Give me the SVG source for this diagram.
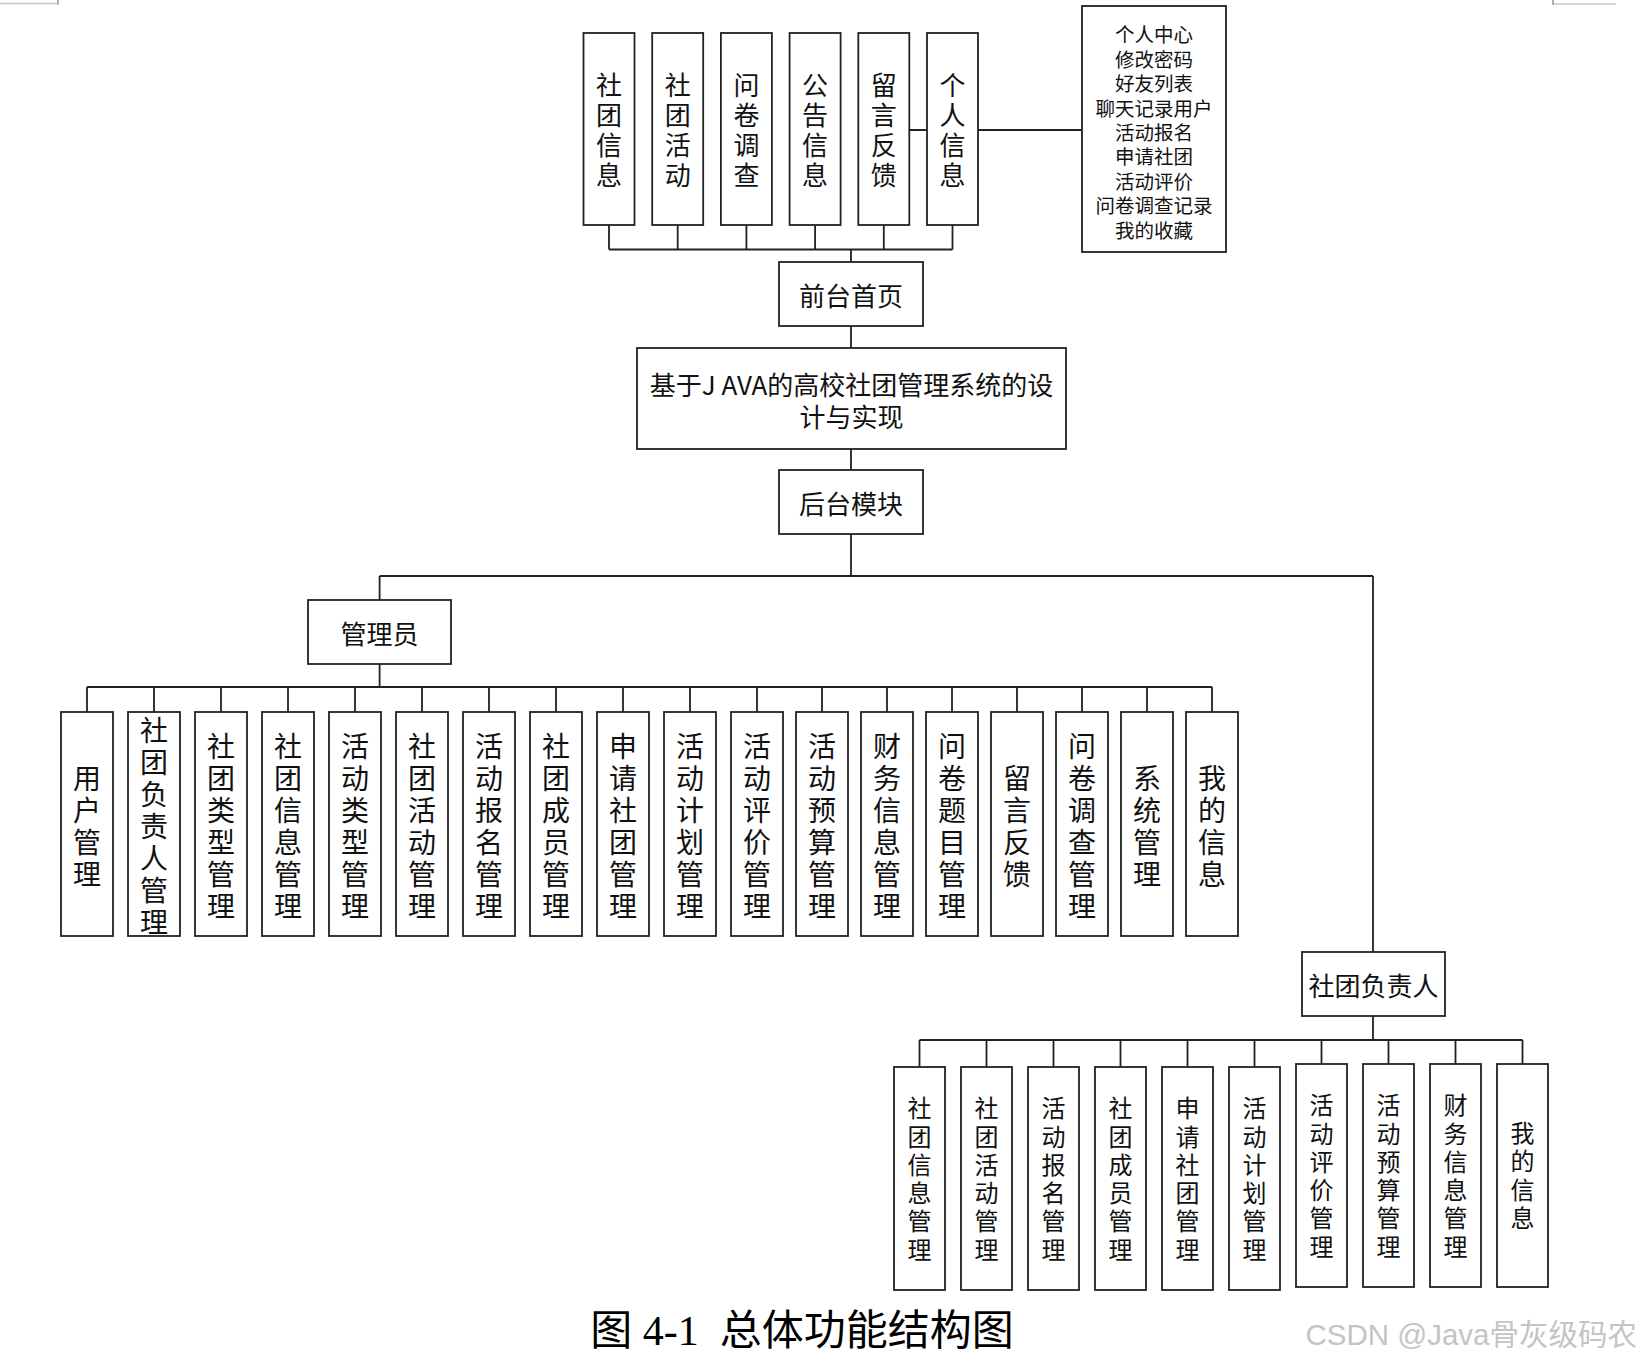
<svg xmlns="http://www.w3.org/2000/svg" width="1644" height="1362" viewBox="0 0 1644 1362">
<style>
.box{fill:#fff;stroke:#222;stroke-width:1.8}
.ln{fill:none;stroke:#222;stroke-width:1.8}
text{font-family:"Noto Sans CJK SC","Noto Sans",sans-serif;fill:#111;text-anchor:middle;dominant-baseline:central}
.v{writing-mode:vertical-rl;text-orientation:upright}
.t26{font-size:26px}
.v26{font-size:26px;letter-spacing:4px}
.v28{font-size:28px;letter-spacing:4px}
.v24{font-size:24px;letter-spacing:4.3px}
.t20{font-size:19.5px}
.cap{font-family:"Liberation Serif","Noto Sans CJK SC",serif;font-size:42px;fill:#000}
.wm{font-family:"Liberation Sans","Noto Sans CJK SC",sans-serif;font-size:29.5px;fill:#c4c4c4;text-anchor:end}
</style>
<rect width="1644" height="1362" fill="#fff"/>
<g id="corner-marks" fill="none" stroke-width="1.5">
<path d="M0 3.5H58" stroke="#c8c8c8"/><path d="M58 0V4.5" stroke="#999"/>
<path d="M1553 4H1616" stroke="#c8c8c8"/><path d="M1553 0V5" stroke="#999"/>
</g>
<g id="connectors" class="ln">
<path d="M609 225V249.5M677.7 225V249.5M746.4 225V249.5M815.1 225V249.5M883.8 225V249.5M952.5 225V249.5M609 249.5H952.5M851 249.5V262"/>
<path d="M909.3 130H927M978 130H1082"/>
<path d="M851 326V348M851 449V470M851 534V576M379.6 576H1373M379.6 576V600M1373 576V952"/>
<path d="M379.6 664V687M87 687H1212M87 687V712M154 687V712M221 687V712M288 687V712M355 687V712M422 687V712M489 687V712M556 687V712M623 687V712M690 687V712M757 687V712M822 687V712M887 687V712M952 687V712M1017 687V712M1082 687V712M1147 687V712M1212 687V712"/>
<path d="M1373 1016V1040M919.5 1040H1522.5M919.5 1040V1067M986.5 1040V1067M1053.5 1040V1067M1120.5 1040V1067M1187.5 1040V1067M1254.5 1040V1067M1321.5 1040V1064M1388.5 1040V1064M1455.5 1040V1064M1522.5 1040V1064"/>
</g>
<g id="top-1"><rect class="box" x="583.5" y="33" width="51" height="192"/><text class="v v26" x="609" y="132">社团信息</text></g>
<g id="top-2"><rect class="box" x="652.2" y="33" width="51" height="192"/><text class="v v26" x="677.7" y="132">社团活动</text></g>
<g id="top-3"><rect class="box" x="720.9" y="33" width="51" height="192"/><text class="v v26" x="746.4" y="132">问卷调查</text></g>
<g id="top-4"><rect class="box" x="789.6" y="33" width="51" height="192"/><text class="v v26" x="815.1" y="132">公告信息</text></g>
<g id="top-5"><rect class="box" x="858.3" y="33" width="51" height="192"/><text class="v v26" x="883.8" y="132">留言反馈</text></g>
<g id="top-6"><rect class="box" x="927" y="33" width="51" height="192"/><text class="v v26" x="952.5" y="132">个人信息</text></g>
<g id="personal-center"><rect class="box" x="1082" y="6" width="144" height="246"/><text class="t20"><tspan x="1154" y="33.3">个人中心</tspan><tspan x="1154" y="57.7">修改密码</tspan><tspan x="1154" y="82.1">好友列表</tspan><tspan x="1154" y="106.5">聊天记录用户</tspan><tspan x="1154" y="130.9">活动报名</tspan><tspan x="1154" y="155.3">申请社团</tspan><tspan x="1154" y="179.7">活动评价</tspan><tspan x="1154" y="204.1">问卷调查记录</tspan><tspan x="1154" y="228.5">我的收藏</tspan></text></g>
<g id="front-home"><rect class="box" x="779" y="262" width="144" height="64"/><text class="t26" x="851" y="294">前台首页</text></g>
<g id="system"><rect class="box" x="637" y="348" width="429" height="101"/><text class="t26"><tspan x="851.5" y="383">基于J AVA的高校社团管理系统的设</tspan><tspan x="851.5" y="415">计与实现</tspan></text></g>
<g id="backend"><rect class="box" x="779" y="470" width="144" height="64"/><text class="t26" x="851" y="502">后台模块</text></g>
<g id="admin"><rect class="box" x="308" y="600" width="143" height="64"/><text class="t26" x="379.6" y="632">管理员</text></g>
<g id="a1"><rect class="box" x="61" y="712" width="52" height="224"/><text class="v v28" x="87" y="828">用户管理</text></g>
<g id="a2"><rect class="box" x="128" y="712" width="52" height="224"/><text class="v v28" x="154" y="828">社团负责人管理</text></g>
<g id="a3"><rect class="box" x="195" y="712" width="52" height="224"/><text class="v v28" x="221" y="828">社团类型管理</text></g>
<g id="a4"><rect class="box" x="262" y="712" width="52" height="224"/><text class="v v28" x="288" y="828">社团信息管理</text></g>
<g id="a5"><rect class="box" x="329" y="712" width="52" height="224"/><text class="v v28" x="355" y="828">活动类型管理</text></g>
<g id="a6"><rect class="box" x="396" y="712" width="52" height="224"/><text class="v v28" x="422" y="828">社团活动管理</text></g>
<g id="a7"><rect class="box" x="463" y="712" width="52" height="224"/><text class="v v28" x="489" y="828">活动报名管理</text></g>
<g id="a8"><rect class="box" x="530" y="712" width="52" height="224"/><text class="v v28" x="556" y="828">社团成员管理</text></g>
<g id="a9"><rect class="box" x="597" y="712" width="52" height="224"/><text class="v v28" x="623" y="828">申请社团管理</text></g>
<g id="a10"><rect class="box" x="664" y="712" width="52" height="224"/><text class="v v28" x="690" y="828">活动计划管理</text></g>
<g id="a11"><rect class="box" x="731" y="712" width="52" height="224"/><text class="v v28" x="757" y="828">活动评价管理</text></g>
<g id="a12"><rect class="box" x="796" y="712" width="52" height="224"/><text class="v v28" x="822" y="828">活动预算管理</text></g>
<g id="a13"><rect class="box" x="861" y="712" width="52" height="224"/><text class="v v28" x="887" y="828">财务信息管理</text></g>
<g id="a14"><rect class="box" x="926" y="712" width="52" height="224"/><text class="v v28" x="952" y="828">问卷题目管理</text></g>
<g id="a15"><rect class="box" x="991" y="712" width="52" height="224"/><text class="v v28" x="1017" y="828">留言反馈</text></g>
<g id="a16"><rect class="box" x="1056" y="712" width="52" height="224"/><text class="v v28" x="1082" y="828">问卷调查管理</text></g>
<g id="a17"><rect class="box" x="1121" y="712" width="52" height="224"/><text class="v v28" x="1147" y="828">系统管理</text></g>
<g id="a18"><rect class="box" x="1186" y="712" width="52" height="224"/><text class="v v28" x="1212" y="828">我的信息</text></g>
<g id="leader"><rect class="box" x="1302" y="952" width="143" height="64"/><text class="t26" x="1373.5" y="984">社团负责人</text></g>
<g id="l1"><rect class="box" x="894" y="1067" width="51" height="223"/><text class="v v24" x="919.5" y="1181">社团信息管理</text></g>
<g id="l2"><rect class="box" x="961" y="1067" width="51" height="223"/><text class="v v24" x="986.5" y="1181">社团活动管理</text></g>
<g id="l3"><rect class="box" x="1028" y="1067" width="51" height="223"/><text class="v v24" x="1053.5" y="1181">活动报名管理</text></g>
<g id="l4"><rect class="box" x="1095" y="1067" width="51" height="223"/><text class="v v24" x="1120.5" y="1181">社团成员管理</text></g>
<g id="l5"><rect class="box" x="1162" y="1067" width="51" height="223"/><text class="v v24" x="1187.5" y="1181">申请社团管理</text></g>
<g id="l6"><rect class="box" x="1229" y="1067" width="51" height="223"/><text class="v v24" x="1254.5" y="1181">活动计划管理</text></g>
<g id="l7"><rect class="box" x="1296" y="1064" width="51" height="223"/><text class="v v24" x="1321.5" y="1178">活动评价管理</text></g>
<g id="l8"><rect class="box" x="1363" y="1064" width="51" height="223"/><text class="v v24" x="1388.5" y="1178">活动预算管理</text></g>
<g id="l9"><rect class="box" x="1430" y="1064" width="51" height="223"/><text class="v v24" x="1455.5" y="1178">财务信息管理</text></g>
<g id="l10"><rect class="box" x="1497" y="1064" width="51" height="223"/><text class="v v24" x="1522.5" y="1177.5">我的信息</text></g>
<text class="cap" x="802" y="1331" xml:space="preserve">图 4-1  总体功能结构图</text>
<text class="wm" x="1637" y="1334">CSDN @Java骨灰级码农</text>
</svg>
